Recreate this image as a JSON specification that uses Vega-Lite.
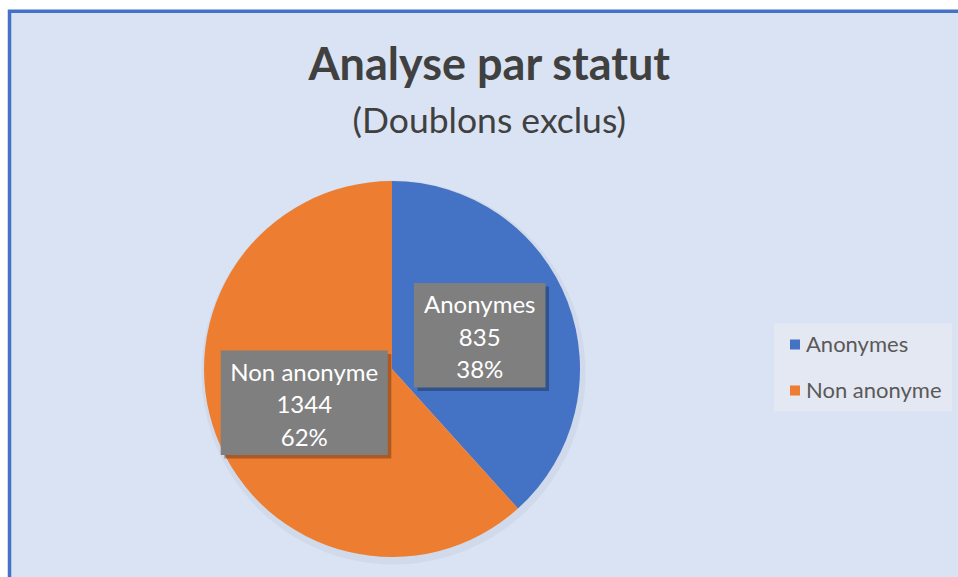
{
  "$schema": "https://vega.github.io/schema/vega-lite/v6.json",
  "width": 958,
  "height": 577,
  "autosize": {"type": "fit", "contains": "padding"},
  "padding": {"left": 9.5, "top": 11.3, "right": 0, "bottom": 0},
  "background": "white",
  "view": {"fill": "#dae3f3", "stroke": "#4472c4", "strokeWidth": 3.5, "strokeDash": [948.5, 1514.2, 565.7], "strokeCap": "square"},
  "config": {
    "view": {"fill": "#dae3f3", "stroke": "#4472c4", "strokeWidth": 3.5, "strokeDash": [948.5, 1514.2, 565.7], "strokeCap": "square"}
  },
  "title": {
    "text": "Analyse par statut",
    "subtitle": "(Doublons exclus)",
    "anchor": "middle",
    "frame": "group",
    "offset": -129,
    "dx": 5.5,
    "font": "Lato",
    "fontSize": 45,
    "fontWeight": "bold",
    "color": "#404040",
    "subtitleFont": "Lato",
    "subtitleFontSize": 35.5,
    "subtitleColor": "#404040",
    "subtitlePadding": 16
  },
  "data": {"values": [
    {"statut": "Anonymes", "n": 835},
    {"statut": "Non anonyme", "n": 1344}
  ]},
  "transform": [
    {"joinaggregate": [{"op": "sum", "field": "n", "as": "total"}]},
    {"stack": "n", "groupby": [], "sort": [{"field": "statut", "order": "ascending"}], "as": ["s0", "s1"]},
    {"calculate": "PI * (datum.s0 + datum.s1) / datum.total", "as": "mid"},
    {"calculate": "0.5 * sin(datum.mid)", "as": "px"},
    {"calculate": "0.5 * cos(datum.mid)", "as": "py"},
    {"calculate": "datum.statut + '\\n' + datum.n + '\\n' + format(datum.n / datum.total, '.0%')", "as": "label"}
  ],
  "layer": [
    {
      "mark": {"type": "arc", "radius": 192, "xOffset": 1.5, "yOffset": 3.5, "color": "#1f3864", "opacity": 0.05},
      "encoding": {
        "theta": {"field": "n", "type": "quantitative", "stack": true},
        "x": {"datum": 0, "type": "quantitative", "scale": {"domain": [-1, 1], "range": [194.5, 570.5]}, "axis": null},
        "y": {"datum": 0, "type": "quantitative", "scale": {"domain": [-1, 1], "range": [545.7, 169.7]}, "axis": null},
        "detail": {"field": "statut"}
      }
    },
    {
      "mark": {"type": "arc", "radius": 188},
      "encoding": {
        "theta": {"field": "n", "type": "quantitative", "stack": true},
        "x": {"datum": 0, "type": "quantitative"},
        "y": {"datum": 0, "type": "quantitative"},
        "color": {
          "field": "statut",
          "type": "nominal",
          "scale": {"domain": ["Anonymes", "Non anonyme"], "range": ["#4472c4", "#ed7d31"]},
          "legend": {
            "orient": "none",
            "legendX": 764.5,
            "legendY": 312.2,
            "title": null,
            "fillColor": "#e4e8f2",
            "padding": 10,
            "symbolType": "square",
            "symbolSize": 100,
            "symbolStrokeWidth": 0,
            "labelFont": "Lato",
            "labelFontSize": 22,
            "labelColor": "#595959",
            "rowPadding": 24,
            "labelOffset": 0
          }
        }
      }
    },
    {
      "mark": {"type": "point", "filled": true, "color": "#000000", "opacity": 0.28, "strokeWidth": 0, "xOffset": 3.5, "yOffset": 3.5},
      "encoding": {
        "x": {"field": "px", "type": "quantitative"},
        "y": {"field": "py", "type": "quantitative"},
        "shape": {"condition": {"test": "datum.statut === 'Anonymes'", "value": "M-1.26,-1H1.26V1H-1.26Z"}, "value": "M-1.6,-1H1.6V1H-1.6Z"},
        "size": {"value": 10900}
      }
    },
    {
      "mark": {"type": "point", "filled": true, "color": "#7f7f7f", "opacity": 1, "strokeWidth": 0},
      "encoding": {
        "x": {"field": "px", "type": "quantitative"},
        "y": {"field": "py", "type": "quantitative"},
        "shape": {"condition": {"test": "datum.statut === 'Anonymes'", "value": "M-1.26,-1H1.26V1H-1.26Z"}, "value": "M-1.6,-1H1.6V1H-1.6Z"},
        "size": {"value": 10900}
      }
    },
    {
      "mark": {"type": "text", "font": "Lato", "fontSize": 24, "lineHeight": 32.5, "lineBreak": "\n", "align": "center", "baseline": "middle", "dy": -29, "color": "#ffffff"},
      "encoding": {
        "x": {"field": "px", "type": "quantitative"},
        "y": {"field": "py", "type": "quantitative"},
        "text": {"field": "label", "type": "nominal"}
      }
    }
  ]
}
